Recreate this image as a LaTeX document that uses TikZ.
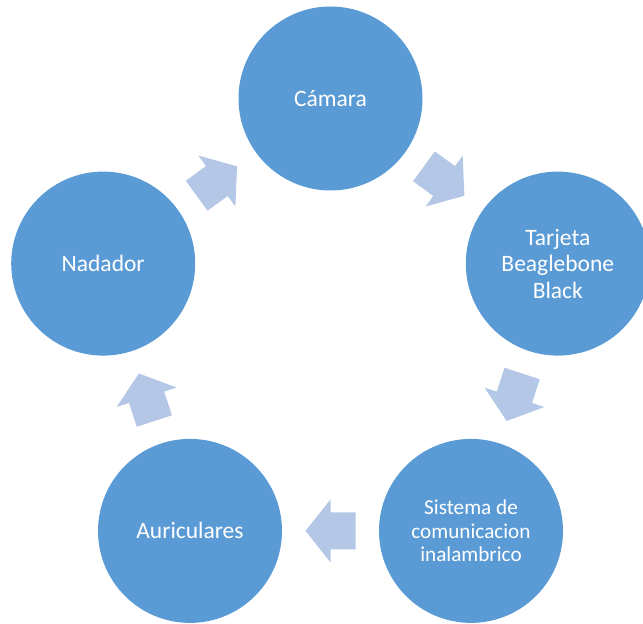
\documentclass[tikz,border=0pt]{standalone}
\usepackage{fontspec}
\setmainfont{Carlito}
\usetikzlibrary{calc}
\definecolor{circblue}{RGB}{91,155,213}
\definecolor{arrowblue}{RGB}{180,199,231}
\tikzset{
    circ/.style={circle,fill=circblue,minimum size=184pt,inner sep=0pt,align=center,text=white,font=\fontsize{23.5}{26.5}\selectfont},
    flecha/.pic={\fill[arrowblue] (-25,-18.5) -- (0,-18.5) -- (0,-31.5) -- (25,0) -- (0,31.5) -- (0,18.5) -- (-25,18.5) -- cycle;}
}
\begin{document}
\begin{tikzpicture}[x=1pt,y=1pt]
            \useasboundingbox (0,0) rectangle (643,624);
            \node[circ] (cam) at (330.5,286.5 + 239) {Cámara};
            \node[circ] (tar) at (330.5 + 227.3,286.5 + 73.9) {Tarjeta\\Beaglebone\\Black};
            \node[circ,font=\fontsize{21.2}{23.3}\selectfont] (sis) at (330.5 + 140.5,286.5 - 193.4) {Sistema de\\comunicacion\\inalambrico};
            \node[circ] (aur) at (330.5 - 140.5,286.5 - 193.4) {Auriculares};
            \node[circ] (nad) at (330.5 - 227.3,286.5 + 73.9) {Nadador};
            \pic[rotate=-36] at ($(cam)!0.5!(tar)$) {flecha};
            \pic[rotate=-108] at ($(tar)!0.5!(sis)$) {flecha};
            \pic[rotate=180] at ($(sis)!0.5!(aur)$) {flecha};
            \pic[rotate=108] at ($(aur)!0.5!(nad)$) {flecha};
            \pic[rotate=36] at ($(nad)!0.5!(cam)$) {flecha};
\end{tikzpicture}
\end{document}
